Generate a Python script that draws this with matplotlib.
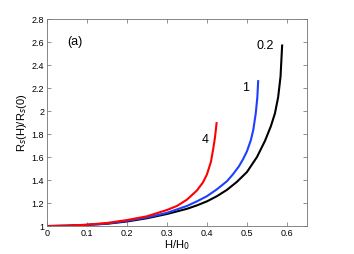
import matplotlib
matplotlib.use('Agg')
import matplotlib.pyplot as plt

plt.rcParams['font.family'] = ['Liberation Sans', 'DejaVu Sans']

# curve labelled 0.2 (black)
h_02 = [0.0, 0.05, 0.1, 0.15, 0.2, 0.25, 0.3, 0.35, 0.375, 0.4, 0.425, 0.45,
        0.475, 0.5, 0.525, 0.545, 0.56, 0.57, 0.578, 0.584, 0.588]
r_02 = [1.0, 1.003, 1.01, 1.02, 1.04, 1.068, 1.105, 1.15, 1.18, 1.215, 1.26, 1.315,
        1.385, 1.47, 1.6, 1.74, 1.87, 1.98, 2.12, 2.3, 2.57]

# curve labelled 1 (blue)
h_1 = [0.0, 0.05, 0.1, 0.15, 0.2, 0.25, 0.3, 0.35, 0.375, 0.4, 0.425, 0.45,
       0.465, 0.48, 0.49, 0.5, 0.51, 0.516, 0.522, 0.526, 0.528]
r_1 = [1.0, 1.003, 1.01, 1.022, 1.045, 1.075, 1.115, 1.175, 1.215, 1.26, 1.32, 1.39,
       1.45, 1.52, 1.58, 1.65, 1.75, 1.84, 1.98, 2.12, 2.26]

# curve labelled 4 (red)
h_4 = [0.0, 0.05, 0.1, 0.15, 0.2, 0.25, 0.3, 0.325, 0.35, 0.375, 0.39, 0.4,
       0.41, 0.416, 0.42, 0.424]
r_4 = [1.0, 1.003, 1.012, 1.027, 1.052, 1.085, 1.14, 1.175, 1.23, 1.31, 1.38, 1.45,
       1.56, 1.68, 1.77, 1.895]

fig = plt.figure(figsize=(3.54, 2.54), dpi=100)
ax = fig.add_axes([0.133, 0.110, 0.734, 0.815])

ax.plot(h_02, r_02, color='black', lw=1.5)
ax.plot(h_1, r_1, color='#1f3fff', lw=1.5)
ax.plot(h_4, r_4, color='red', lw=1.5)

ax.set_xlim(0, 0.65)
ax.set_ylim(1, 2.8)
ax.set_xticks([0, 0.1, 0.2, 0.3, 0.4, 0.5, 0.6])
ax.set_xticklabels(['0', '0.1', '0.2', '0.3', '0.4', '0.5', '0.6'])
ax.set_yticks([1, 1.2, 1.4, 1.6, 1.8, 2, 2.2, 2.4, 2.6, 2.8])
ax.set_yticklabels(['1', '1.2', '1.4', '1.6', '1.8', '2', '2.2', '2.4', '2.6', '2.8'])
ax.tick_params(direction='in', top=True, right=True, labelsize=6.5, length=3,
               width=0.5, color='0.4', pad=2)
for s in ax.spines.values():
    s.set_linewidth(0.6)
    s.set_color('0.45')

ax.set_xlabel('H/H$_0$', fontsize=8, labelpad=0)
ax.set_ylabel('R$_s$(H)/R$_s$(0)', fontsize=8, labelpad=2)

ax.text(0.07, 2.6, '(a)', fontsize=9, ha='center', va='center')
ax.text(0.545, 2.57, '0.2', fontsize=9, ha='center', va='center')
ax.text(0.497, 2.2, '1', fontsize=9, ha='center', va='center')
ax.text(0.395, 1.75, '4', fontsize=9, ha='center', va='center')

plt.savefig('out.png', dpi=100)
